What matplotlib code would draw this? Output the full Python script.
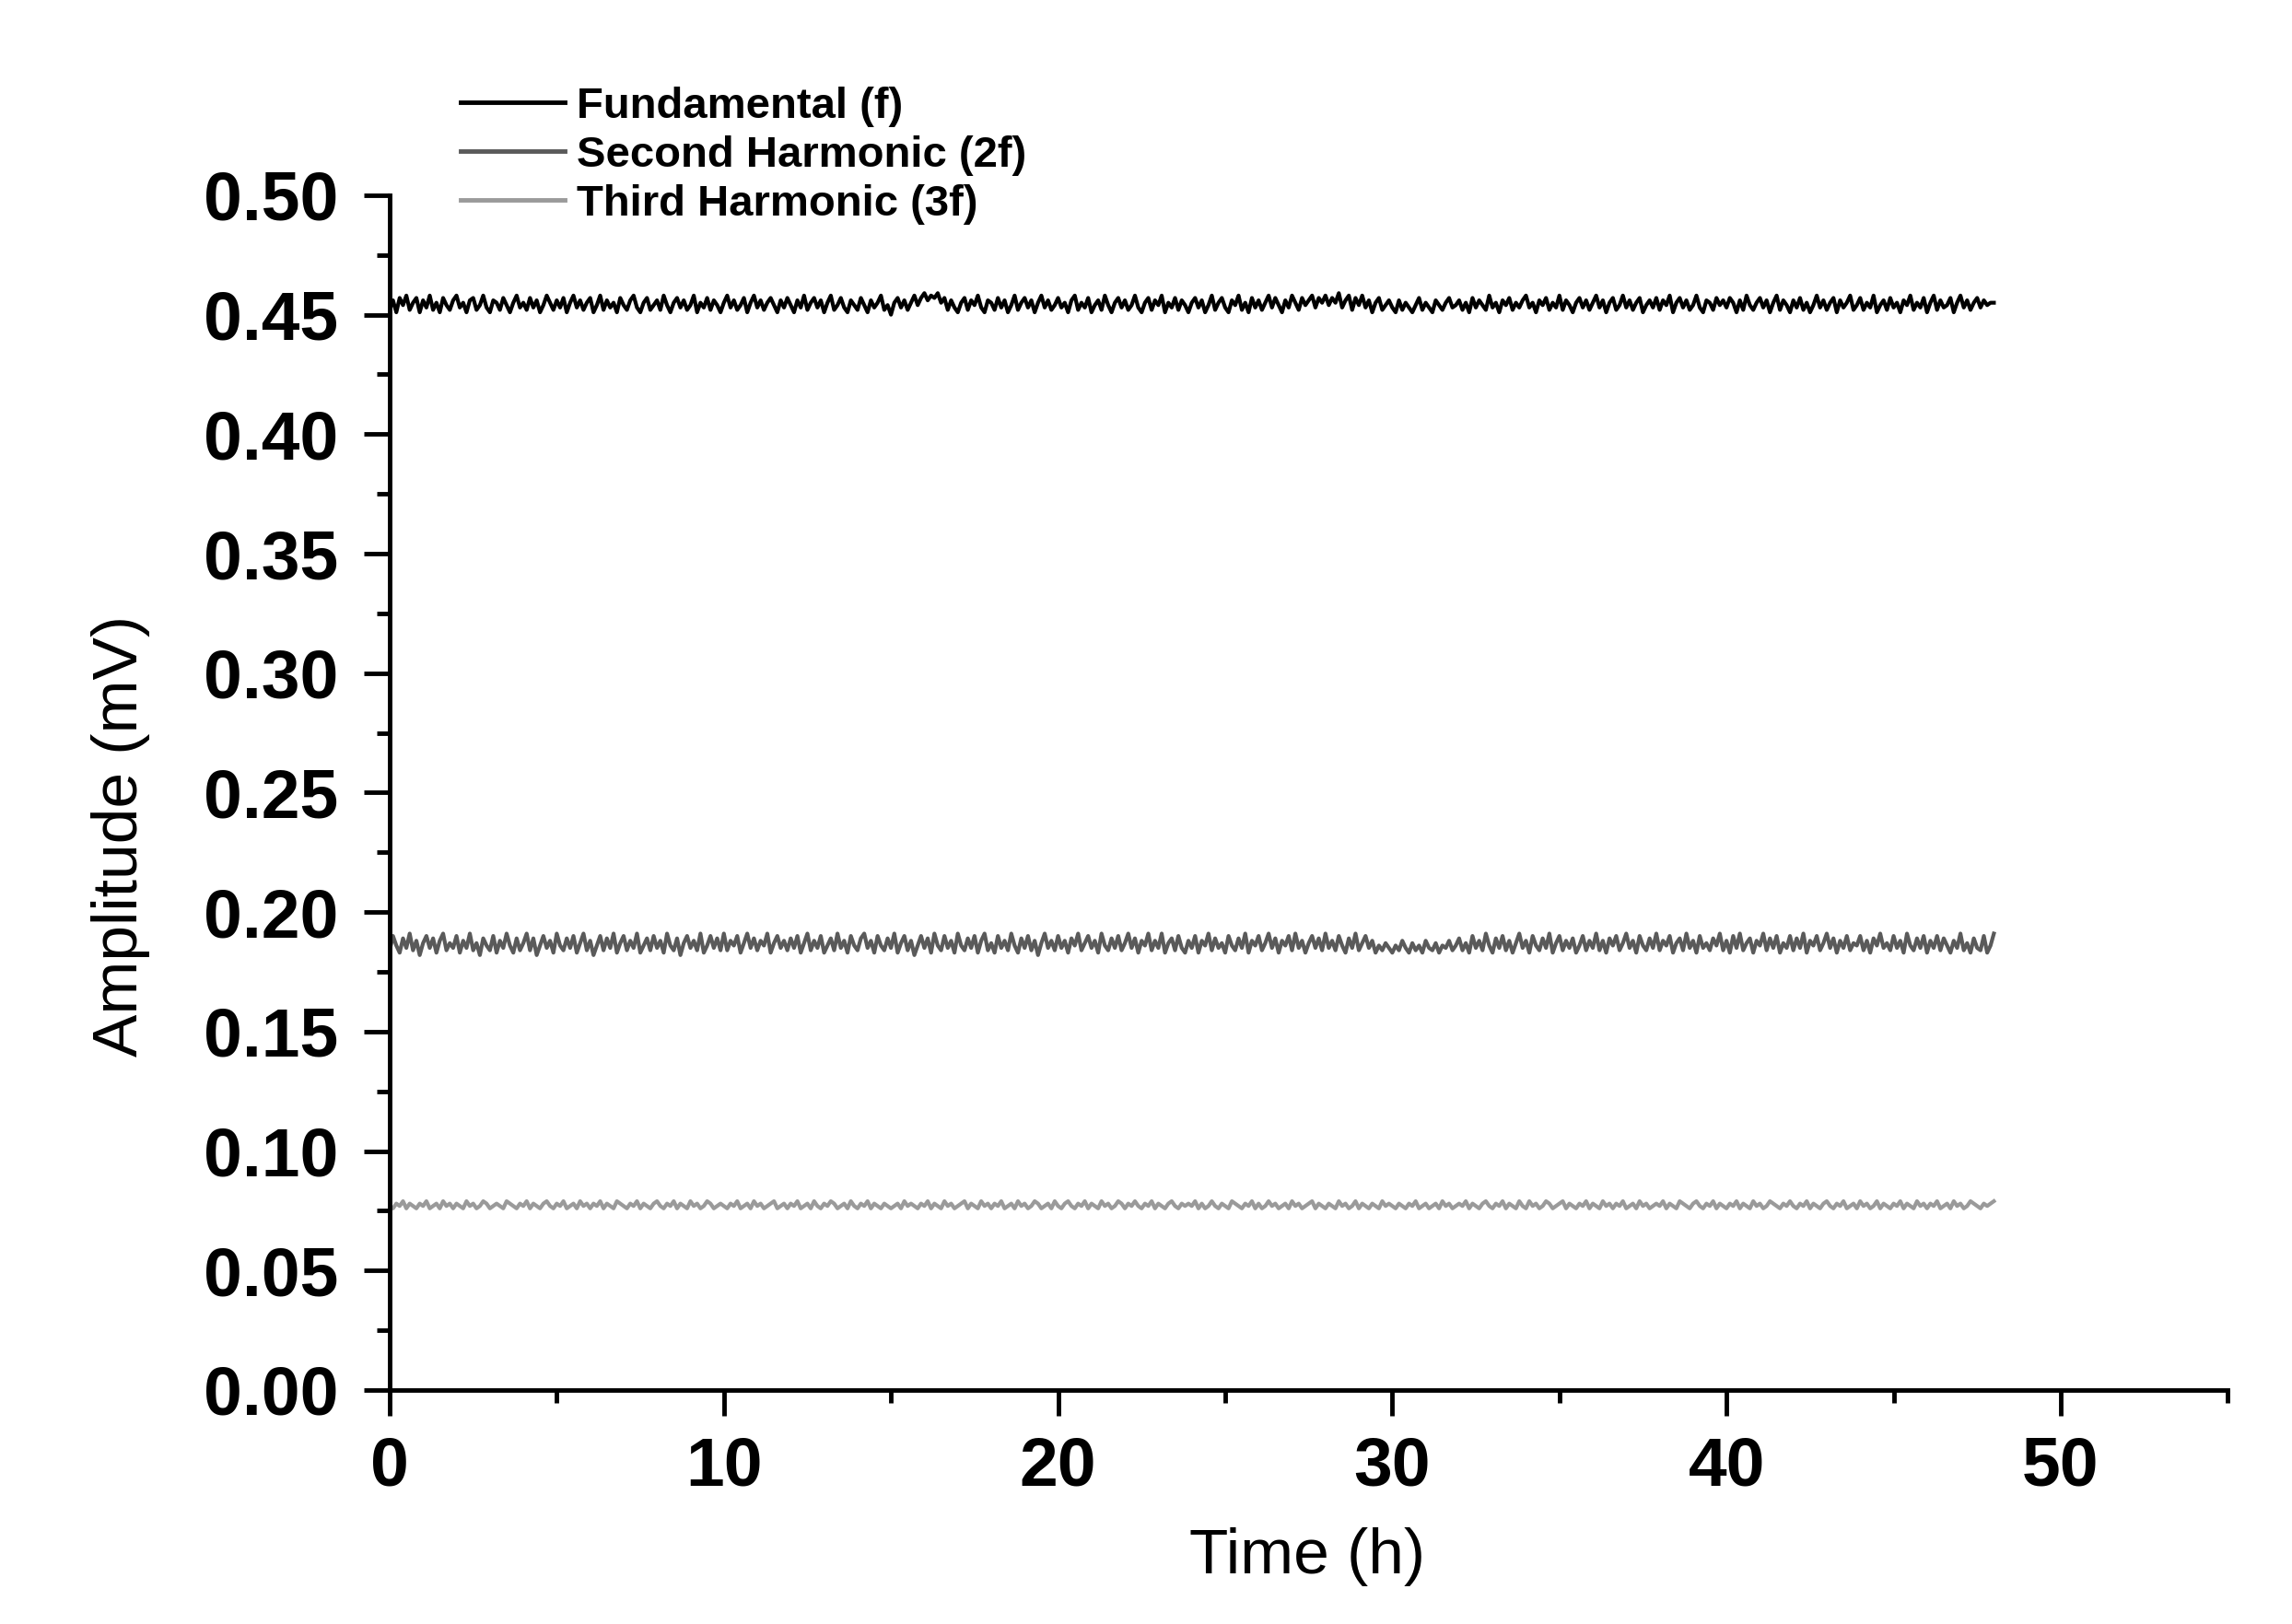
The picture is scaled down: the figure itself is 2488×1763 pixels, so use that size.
import numpy as np
import matplotlib
matplotlib.use("Agg")
import matplotlib.pyplot as plt
from matplotlib.ticker import MultipleLocator, FormatStrFormatter

plt.rcParams['font.family'] = ['Liberation Sans', 'DejaVu Sans']

# amplitudes, in microvolts, one sample every 0.1 h (0 .. 48 h)
fundamental_uV = [
    452, 456, 451, 457, 454, 458, 452, 455, 457, 451, 456, 453, 458, 452, 455, 451, 457, 454, 452, 456,
    458, 453, 455, 451, 456, 457, 452, 454, 458, 453, 451, 456, 455, 452, 457, 454, 451, 455, 458, 453,
    455, 452, 457, 453, 456, 451, 454, 458, 455, 452, 456, 453, 457, 451, 455, 458, 453, 456, 452, 455,
    457, 451, 454, 458, 452, 456, 453, 455, 451, 457, 454, 452, 456, 458, 453, 451, 455, 457, 452, 454,
    456, 452, 458, 454, 451, 455, 457, 453, 456, 452, 454, 458, 451, 455, 453, 457, 452, 456, 454, 451,
    455, 458, 453, 456, 452, 454, 457, 451, 455, 458, 453, 456, 452, 455, 457, 454, 451, 456, 453, 457,
    454, 451, 456, 453, 458, 452, 455, 457, 453, 456, 451, 455, 458, 452, 454, 457, 453, 451, 456, 454,
    452, 457, 454, 451, 456, 453, 455, 458, 452, 454, 450, 455, 457, 453, 456, 452, 455, 458, 454, 457,
    459, 456, 458, 457, 459, 455, 457, 452, 456, 453, 451, 455, 457, 452, 456, 454, 458, 453, 451, 456,
    455, 452, 457, 453, 456, 451, 454, 458, 452, 455, 457, 453, 456, 451, 455, 458, 453, 456, 452, 454,
    457, 453, 455, 451, 456, 458, 452, 455, 453, 457, 451, 454, 456, 452, 458, 454, 451, 455, 457, 453,
    456, 452, 454, 458, 453, 451, 455, 457, 452, 456, 454, 458, 451, 455, 453, 457, 452, 456, 454, 451,
    455, 457, 453, 456, 451, 454, 458, 452, 455, 457, 453, 451, 456, 454, 458, 452, 455, 451, 457, 453,
    456, 452, 455, 458, 453, 457, 454, 451, 456, 453, 458, 455, 452, 457, 454, 456, 458, 453, 457, 455,
    458, 454, 457, 455, 459, 453, 456, 458, 452, 457, 454, 458, 453, 456, 451, 455, 457, 452, 454, 456,
    453, 451, 456, 452, 455, 453, 451, 454, 457, 452, 455, 453, 451, 456, 454, 452, 455, 457, 453, 454,
    456, 452, 455, 451, 457, 453, 456, 454, 452, 458, 453, 455, 451, 456, 454, 457, 452, 455, 453, 456,
    458, 453, 455, 451, 456, 454, 457, 452, 455, 453, 458, 452, 456, 454, 451, 455, 457, 453, 456, 452,
    455, 458, 453, 456, 451, 455, 457, 452, 454, 458, 453, 456, 452, 455, 457, 451, 454, 456, 453, 457,
    452, 456, 454, 458, 451, 455, 457, 453, 456, 452, 454, 458, 453, 451, 456, 455, 452, 457, 454, 456,
    453, 457, 455, 451, 456, 452, 458, 454, 452, 455, 457, 453, 456, 451, 455, 458, 452, 456, 454, 451,
    456, 453, 457, 452, 455, 451, 454, 458, 453, 456, 452, 455, 457, 451, 456, 453, 455, 458, 452, 454,
    457, 452, 455, 453, 458, 451, 454, 456, 452, 457, 453, 455, 451, 456, 454, 458, 452, 455, 453, 457,
    451, 455, 458, 452, 456, 453, 454, 457, 451, 455, 458, 453, 456, 452, 455, 457, 453, 456, 454, 455,
    455,
]

second_uV = [
    184, 190, 186, 183, 189, 185, 191, 184, 188, 182, 187, 190, 185, 189, 183, 188, 191, 184, 187, 185,
    190, 183, 188, 185, 191, 184, 187, 182, 189, 186, 184, 190, 183, 188, 185, 191, 186, 183, 189, 184,
    187, 191, 184, 189, 182, 186, 190, 185, 188, 183, 191, 186, 184, 189, 185, 190, 183, 187, 191, 184,
    188, 182, 186, 190, 184, 189, 185, 191, 183, 187, 190, 184, 188, 185, 191, 183, 186, 189, 184, 190,
    185, 188, 183, 191, 186, 184, 189, 182, 187, 190, 185, 188, 184, 191, 183, 186, 190, 185, 189, 184,
    191, 184, 188, 186, 190, 183, 187, 191, 185, 189, 184, 188, 186, 191, 183, 187, 190, 185, 188, 184,
    189, 185, 190, 183, 187, 191, 184, 188, 185, 190, 183, 186, 189, 184, 191, 185, 188, 183, 190, 186,
    184, 189, 191, 185, 188, 183, 190, 186, 184, 189, 185, 191, 183, 187, 190, 184, 188, 182, 186, 190,
    185, 189, 183, 191, 186, 184, 190, 185, 188, 183, 191, 186, 184, 189, 185, 190, 183, 188, 191, 184,
    187, 183, 190, 185, 188, 184, 191, 186, 183, 189, 185, 190, 184, 188, 182, 187, 191, 185, 188, 184,
    190, 185, 188, 183, 189, 186, 191, 184, 187, 190, 185, 188, 183, 191, 186, 184, 189, 185, 190, 184,
    187, 191, 185, 189, 183, 188, 186, 191, 184, 188, 185, 191, 183, 187, 189, 184, 190, 185, 183, 188,
    185, 190, 183, 188, 186, 191, 184, 189, 185, 187, 183, 190, 186, 184, 189, 185, 191, 183, 188, 186,
    190, 184, 187, 191, 185, 189, 183, 188, 186, 190, 184, 191, 185, 188, 183, 187, 190, 185, 189, 184,
    191, 185, 188, 184, 190, 186, 183, 189, 185, 191, 184, 187, 190, 185, 188, 183, 186, 184, 187, 185,
    183, 186, 184, 188, 185, 183, 187, 184, 186, 183, 188, 185, 184, 187, 183, 186, 185, 188, 184, 186,
    189, 184, 187, 183, 190, 185, 188, 184, 191, 186, 183, 189, 185, 190, 184, 188, 183, 187, 191, 185,
    188, 183, 190, 186, 184, 189, 185, 191, 183, 187, 190, 184, 188, 185, 189, 183, 186, 190, 184, 188,
    185, 191, 184, 188, 183, 189, 186, 190, 184, 187, 191, 185, 188, 183, 190, 186, 184, 189, 185, 191,
    184, 188, 186, 190, 183, 187, 189, 184, 191, 185, 188, 183, 190, 185, 187, 184, 189, 186, 191, 184,
    188, 183, 190, 185, 191, 184, 187, 189, 183, 188, 186, 191, 184, 189, 185, 190, 183, 187, 185, 190,
    184, 189, 185, 191, 183, 188, 186, 190, 184, 187, 191, 185, 189, 183, 188, 185, 190, 184, 187, 186,
    190, 184, 188, 183, 189, 186, 191, 185, 187, 184, 190, 185, 188, 183, 191, 186, 184, 189, 185, 190,
    183, 188, 185, 190, 184, 189, 186, 183, 188, 185, 191, 184, 187, 183, 189, 185, 184, 190, 183, 186,
    191,
]

third_uV = [
    77, 76, 78, 77, 79, 76, 78, 77, 76, 78, 77, 79, 76, 77, 78, 76, 79, 77, 78, 76,
    78, 77, 76, 79, 77, 78, 76, 77, 79, 78, 76, 77, 78, 77, 76, 79, 78, 77, 76, 78,
    77, 79, 76, 78, 77, 76, 78, 79, 77, 76, 78, 77, 79, 76, 77, 78, 76, 79, 77, 78,
    76, 78, 77, 79, 76, 78, 77, 76, 79, 78, 77, 76, 78, 77, 79, 76, 78, 77, 76, 78,
    79, 77, 76, 78, 77, 79, 76, 78, 77, 76, 79, 77, 78, 76, 77, 79, 78, 76, 77, 78,
    77, 76, 78, 77, 79, 76, 77, 78, 76, 79, 77, 78, 76, 77, 78, 79, 76, 77, 78, 76,
    78, 77, 79, 76, 77, 78, 76, 79, 77, 76, 78, 77, 79, 78, 76, 77, 78, 76, 79, 77,
    76, 78, 77, 79, 76, 78, 77, 76, 78, 77, 76, 77, 78, 76, 79, 77, 78, 77, 76, 78,
    77, 79, 76, 78, 77, 76, 79, 77, 78, 76, 77, 78, 79, 76, 78, 77, 76, 79, 77, 78,
    76, 78, 77, 79, 76, 77, 78, 76, 79, 77, 78, 76, 77, 79, 78, 76, 77, 78, 76, 79,
    77, 76, 78, 79, 77, 76, 78, 77, 79, 76, 78, 77, 76, 79, 77, 78, 76, 77, 79, 78,
    76, 78, 77, 79, 77, 76, 78, 77, 79, 76, 78, 77, 76, 78, 79, 77, 76, 78, 77, 78,
    77, 79, 76, 78, 76, 77, 79, 77, 76, 78, 77, 76, 79, 78, 77, 76, 78, 77, 79, 76,
    78, 76, 77, 79, 77, 78, 76, 77, 78, 76, 79, 77, 78, 76, 77, 78, 79, 76, 78, 77,
    76, 78, 77, 76, 79, 77, 78, 76, 77, 79, 76, 78, 77, 76, 78, 77, 76, 79, 77, 78,
    77, 76, 78, 77, 76, 78, 77, 79, 76, 77, 78, 76, 77, 78, 76, 79, 77, 78, 76, 77,
    78, 77, 79, 76, 78, 77, 76, 78, 79, 77, 76, 78, 77, 79, 76, 78, 77, 76, 79, 77,
    76, 79, 77, 78, 76, 77, 79, 78, 76, 77, 78, 79, 76, 78, 77, 76, 78, 77, 79, 76,
    78, 77, 76, 79, 77, 78, 76, 78, 77, 79, 76, 77, 78, 76, 79, 77, 78, 76, 77, 78,
    77, 79, 76, 78, 77, 76, 79, 78, 77, 76, 78, 79, 77, 76, 78, 77, 79, 76, 78, 77,
    76, 78, 77, 79, 76, 78, 77, 76, 79, 77, 78, 76, 77, 79, 78, 77, 76, 78, 77, 79,
    77, 76, 78, 77, 79, 76, 78, 77, 76, 78, 79, 77, 76, 78, 77, 79, 76, 77, 78, 76,
    79, 77, 78, 76, 77, 79, 76, 78, 77, 76, 78, 77, 79, 76, 78, 77, 76, 79, 77, 78,
    76, 78, 77, 79, 76, 77, 78, 76, 79, 77, 78, 76, 77, 79, 78, 77, 76, 78, 77, 78,
    79,
]

labels = ["Fundamental (f)", "Second Harmonic (2f)", "Third Harmonic (3f)"]
colors = ["#000000", "#5a5a5a", "#9a9a9a"]
t_end = 48.0

time = np.linspace(0, t_end, len(fundamental_uV))
series = [np.array(fundamental_uV) / 1000.0,
          np.array(second_uV) / 1000.0,
          np.array(third_uV) / 1000.0]

fig = plt.figure(figsize=(24.88, 17.63), dpi=100)
ax = fig.add_axes([0.170, 0.1441, 0.802, 0.7357])

for y, lab, col in zip(series, labels, colors):
    ax.plot(time, y, color=col, lw=3.0, label=lab)

ax.set_xlim(0, 55)
ax.set_ylim(0, 0.5)
ax.xaxis.set_major_locator(MultipleLocator(10))
ax.xaxis.set_minor_locator(MultipleLocator(5))
ax.yaxis.set_major_locator(MultipleLocator(0.05))
ax.yaxis.set_minor_locator(MultipleLocator(0.025))
ax.yaxis.set_major_formatter(FormatStrFormatter('%.2f'))

for s in ['top', 'right']:
    ax.spines[s].set_visible(False)
for s in ['left', 'bottom']:
    ax.spines[s].set_linewidth(3.5)

ax.tick_params(which='major', direction='out', length=20, width=3.5)
ax.tick_params(which='minor', direction='out', length=10, width=3.5)
ax.tick_params(axis='x', which='major', pad=16)
ax.tick_params(axis='y', which='major', pad=20)
for lbl in ax.get_xticklabels() + ax.get_yticklabels():
    lbl.set_fontsize(54)
    lbl.set_fontweight('bold')

fig.text(0.5703, 0.0312, "Time (h)", fontsize=50, ha='center', va='baseline')
fig.text(0.0527, 0.4855, "Amplitude (mV)", fontsize=50, rotation=90,
         ha='center', va='center')

leg = ax.legend(loc='upper left', bbox_to_anchor=(0.201, 0.9467),
                bbox_transform=fig.transFigure, frameon=False,
                prop={'size': 34, 'weight': 'bold'},
                handlelength=2.4, handletextpad=0.27, labelspacing=0.19,
                borderpad=0, borderaxespad=0)
for h in leg.get_lines():
    h.set_linewidth(3.5)

fig.savefig("out.png", dpi=100)
